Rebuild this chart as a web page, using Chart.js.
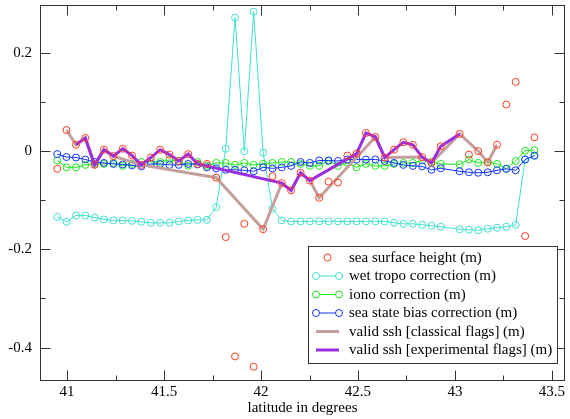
<!DOCTYPE html>
<html>
<head>
<meta charset="utf-8">
<script src="https://cdn.jsdelivr.net/npm/chart.js@4/dist/chart.umd.min.js"></script>
<style>
  html, body { margin: 0; padding: 0; background: #fff; }
</style>
</head>
<body>
<canvas id="chart" width="570" height="419"></canvas>
<script>
// latitude of each measurement (one sample around 42.98 is missing)
const latitude = [
  40.949, 40.997, 41.046, 41.094, 41.142, 41.190, 41.239, 41.287, 41.335, 41.383,
  41.432, 41.480, 41.528, 41.576, 41.625, 41.673, 41.721, 41.769, 41.818, 41.866,
  41.914, 41.962, 42.011, 42.059, 42.107, 42.155, 42.204, 42.252, 42.300, 42.348,
  42.397, 42.445, 42.493, 42.541, 42.590, 42.638, 42.686, 42.734, 42.783, 42.831,
  42.879, 42.927, 43.024, 43.072, 43.120, 43.169, 43.217, 43.265, 43.313, 43.362,
  43.410
]
const seaSurfaceHeight = [
  -0.036, 0.043, 0.013, 0.027, -0.028, 0.003, -0.010, 0.005, -0.009, -0.028,
  -0.013, 0.003, -0.007, -0.020, -0.006, -0.026, -0.026, -0.054, -0.175, -0.418,
  -0.148, -0.439, -0.159, -0.051, -0.065, -0.080, -0.044, -0.060, -0.095, -0.062,
  -0.064, -0.009, -0.005, 0.037, 0.029, -0.013, 0.003, 0.018, 0.013, -0.012,
  -0.024, 0.010, 0.035, -0.007, 0.000, -0.023, 0.013, 0.095, 0.141, -0.173,
  0.028
]
const wetTropo = [
  -0.134, -0.144, -0.131, -0.131, -0.135, -0.139, -0.141, -0.141, -0.142, -0.144,
  -0.146, -0.146, -0.146, -0.143, -0.141, -0.140, -0.140, -0.114, 0.005, 0.272,
  0.000, 0.284, -0.003, -0.117, -0.141, -0.143, -0.143, -0.143, -0.143, -0.143,
  -0.143, -0.143, -0.143, -0.143, -0.143, -0.143, -0.146, -0.148, -0.148, -0.150,
  -0.152, -0.154, -0.159, -0.160, -0.161, -0.158, -0.156, -0.154, -0.150, -0.017,
  -0.010
]
const iono = [
  -0.019, -0.033, -0.033, -0.028, -0.026, -0.026, -0.024, -0.030, -0.026, -0.022,
  -0.022, -0.022, -0.018, -0.020, -0.030, -0.022, -0.030, -0.024, -0.024, -0.028,
  -0.024, -0.028, -0.026, -0.024, -0.022, -0.022, -0.026, -0.030, -0.030, -0.020,
  -0.030, -0.024, -0.033, -0.026, -0.030, -0.030, -0.026, -0.024, -0.024, -0.019,
  -0.022, -0.026, -0.027, -0.017, -0.024, -0.022, -0.026, -0.036, -0.020, 0.001,
  0.002
]
const seaStateBias = [
  -0.006, -0.012, -0.013, -0.017, -0.022, -0.024, -0.026, -0.027, -0.029, -0.031,
  -0.026, -0.026, -0.028, -0.028, -0.026, -0.027, -0.033, -0.035, -0.038, -0.038,
  -0.039, -0.041, -0.033, -0.035, -0.033, -0.030, -0.022, -0.024, -0.019, -0.019,
  -0.020, -0.017, -0.017, -0.017, -0.017, -0.020, -0.024, -0.028, -0.030, -0.031,
  -0.038, -0.035, -0.041, -0.043, -0.044, -0.043, -0.039, -0.036, -0.039, -0.017,
  -0.009
]
// ssh kept by each flag set (null = rejected)
const validClassical = [
  null, 0.043, 0.013, 0.027, -0.028, 0.003, -0.010, null, null, -0.028,
  null, null, null, null, null, null, null, -0.054, null, null,
  null, null, -0.159, null, -0.065, -0.080, -0.044, -0.060, -0.095, null,
  null, null, null, null, 0.029, -0.013, null, null, null, -0.012,
  -0.024, null, 0.035, null, 0.000, -0.023, 0.013, null, null, null,
  null
]
const validExperimental = [
  null, null, 0.013, 0.027, -0.028, 0.003, -0.010, 0.005, -0.009, -0.028,
  -0.013, 0.003, -0.007, -0.020, -0.006, -0.026, null, null, null, null,
  null, null, null, null, -0.065, -0.080, -0.044, -0.060, null, null,
  null, null, -0.005, 0.037, 0.029, -0.013, 0.003, 0.018, 0.013, -0.012,
  -0.024, 0.010, 0.035, null, null, null, null, null, null, null,
  null
]

const xTicks = [41, 41.5, 42, 42.5, 43, 43.5]
const xMinorTicks = [41.25, 41.75, 42.25, 42.75, 43.25]
const yTicks = [-0.4, -0.2, 0, 0.2]
const yMinorTicks = [-0.3, -0.1, 0.1]

const serif = { family: '"Liberation Serif", "Times New Roman", serif', size: 15 }

function toPoints(values) {
  return values
    .map((v, i) => (v === null ? null : { x: latitude[i], y: v }))
    .filter(p => p !== null)
}

function series(label, values, color, opts) {
  return Object.assign({
    label: label,
    data: toPoints(values),
    borderColor: color,
    backgroundColor: 'rgba(0,0,0,0)',
    borderWidth: 1,
    pointRadius: 3.5,
    pointBorderWidth: 1,
    pointBorderColor: color,
    pointBackgroundColor: 'rgba(0,0,0,0)',
    tension: 0
  }, opts)
}

// no automatic label overflow padding: the plot box is fixed
function fixBox(s, size) {
  if (s.isHorizontal()) s.height = size
  else s.width = size
  s.paddingTop = 0
  s.paddingBottom = 0
  s.paddingLeft = 0
  s.paddingRight = 0
}

// frame with inward ticks on every side, like the original
const framePlugin = {
  id: 'frame',
  afterDraw(chart) {
    const { ctx, chartArea: a, scales } = chart
    const l = Math.round(a.left) + 0.5, r = Math.round(a.right) - 0.5
    const t = Math.round(a.top) + 0.5, b = Math.round(a.bottom) + 0.5
    ctx.save()
    ctx.strokeStyle = '#333'
    ctx.lineWidth = 1
    ctx.strokeRect(l, t, r - l, b - t)
    ctx.beginPath()
    const tickX = (vals, len) => vals.forEach(v => {
      const x = Math.round(scales.x.getPixelForValue(v)) + 0.5
      ctx.moveTo(x, b); ctx.lineTo(x, b - len)
      ctx.moveTo(x, t); ctx.lineTo(x, t + len)
    })
    const tickY = (vals, len) => vals.forEach(v => {
      const y = Math.round(scales.y.getPixelForValue(v)) + 0.5
      ctx.moveTo(l, y); ctx.lineTo(l + len, y)
      ctx.moveTo(r, y); ctx.lineTo(r - len, y)
    })
    tickX(xTicks, 10); tickX(xMinorTicks, 5)
    tickY(yTicks, 10); tickY(yMinorTicks, 5)
    ctx.stroke()
    ctx.restore()
  }
}

const legendPlugin = {
  id: 'boxLegend',
  afterDraw(chart) {
    const ctx = chart.ctx
    const bx = 308.5, by = 246.5, bw = 249, bh = 117
    ctx.save()
    ctx.fillStyle = '#fff'
    ctx.fillRect(bx, by, bw, bh)
    ctx.strokeStyle = '#333'
    ctx.lineWidth = 1
    ctx.strokeRect(bx, by, bw, bh)
    ctx.font = serif.size + 'px ' + serif.family
    ctx.textBaseline = 'middle'
    ctx.textAlign = 'left'
    chart.data.datasets.forEach((ds, i) => {
      const y = 257.5 + i * 18.5
      const x0 = 316, x1 = 339
      ctx.strokeStyle = ds.borderColor
      if (ds.showLine !== false) {
        ctx.lineWidth = ds.borderWidth
        ctx.beginPath(); ctx.moveTo(x0, y); ctx.lineTo(x1, y); ctx.stroke()
      }
      if (ds.pointRadius > 0) {
        ctx.lineWidth = 1
        const xs = ds.showLine === false ? [(x0 + x1) / 2] : [x0, x1]
        xs.forEach(x => {
          ctx.beginPath(); ctx.arc(x, y, ds.pointRadius, 0, Math.PI * 2)
          ctx.fillStyle = '#fff'; ctx.fill(); ctx.stroke()
        })
      }
      ctx.fillStyle = '#000'
      ctx.fillText(ds.label, 349, y + 0.5)
    })
    ctx.restore()
  }
}

new Chart(document.getElementById('chart'), {
  type: 'line',
  data: {
    datasets: [
      series('sea surface height (m)', seaSurfaceHeight, '#ff3a20', { showLine: false, order: 0 }),
      series('wet tropo correction (m)', wetTropo, '#40e0d0', { order: 5 }),
      series('iono correction (m)', iono, '#1ee81e', { order: 4 }),
      series('sea state bias correction (m)', seaStateBias, '#1236ff', { order: 3 }),
      series('valid ssh [classical flags] (m)', validClassical, '#c4a09c', { borderWidth: 3, pointRadius: 0, order: 2 }),
      series('valid ssh [experimental flags] (m)', validExperimental, '#9b2ee0', { borderWidth: 3, pointRadius: 0, order: 1 })
    ]
  },
  options: {
    responsive: false,
    animation: false,
    devicePixelRatio: 1,
    layout: { padding: { top: 4, right: 1, left: 0, bottom: 0 } },
    plugins: { legend: { display: false }, tooltip: { enabled: false } },
    scales: {
      x: {
        type: 'linear',
        min: 40.8603,
        max: 43.5675,
        grid: { display: false, drawTicks: false },
        border: { display: false },
        afterBuildTicks: s => { s.ticks = xTicks.map(v => ({ value: v })) },
        afterFit: s => fixBox(s, 39),
        ticks: { font: serif, color: '#000', padding: 3, maxRotation: 0, callback: v => String(v) },
        title: { display: true, text: 'latitude in degrees', font: serif, color: '#000', padding: { top: 0, bottom: 2 } }
      },
      y: {
        type: 'linear',
        min: -0.466,
        max: 0.2976,
        grid: { display: false, drawTicks: false },
        border: { display: false },
        afterBuildTicks: s => { s.ticks = yTicks.map(v => ({ value: v })) },
        afterFit: s => fixBox(s, 40),
        ticks: { font: serif, color: '#000', padding: 8, callback: v => String(v) }
      }
    }
  },
  plugins: [framePlugin, legendPlugin]
})
</script>
</body>
</html>
